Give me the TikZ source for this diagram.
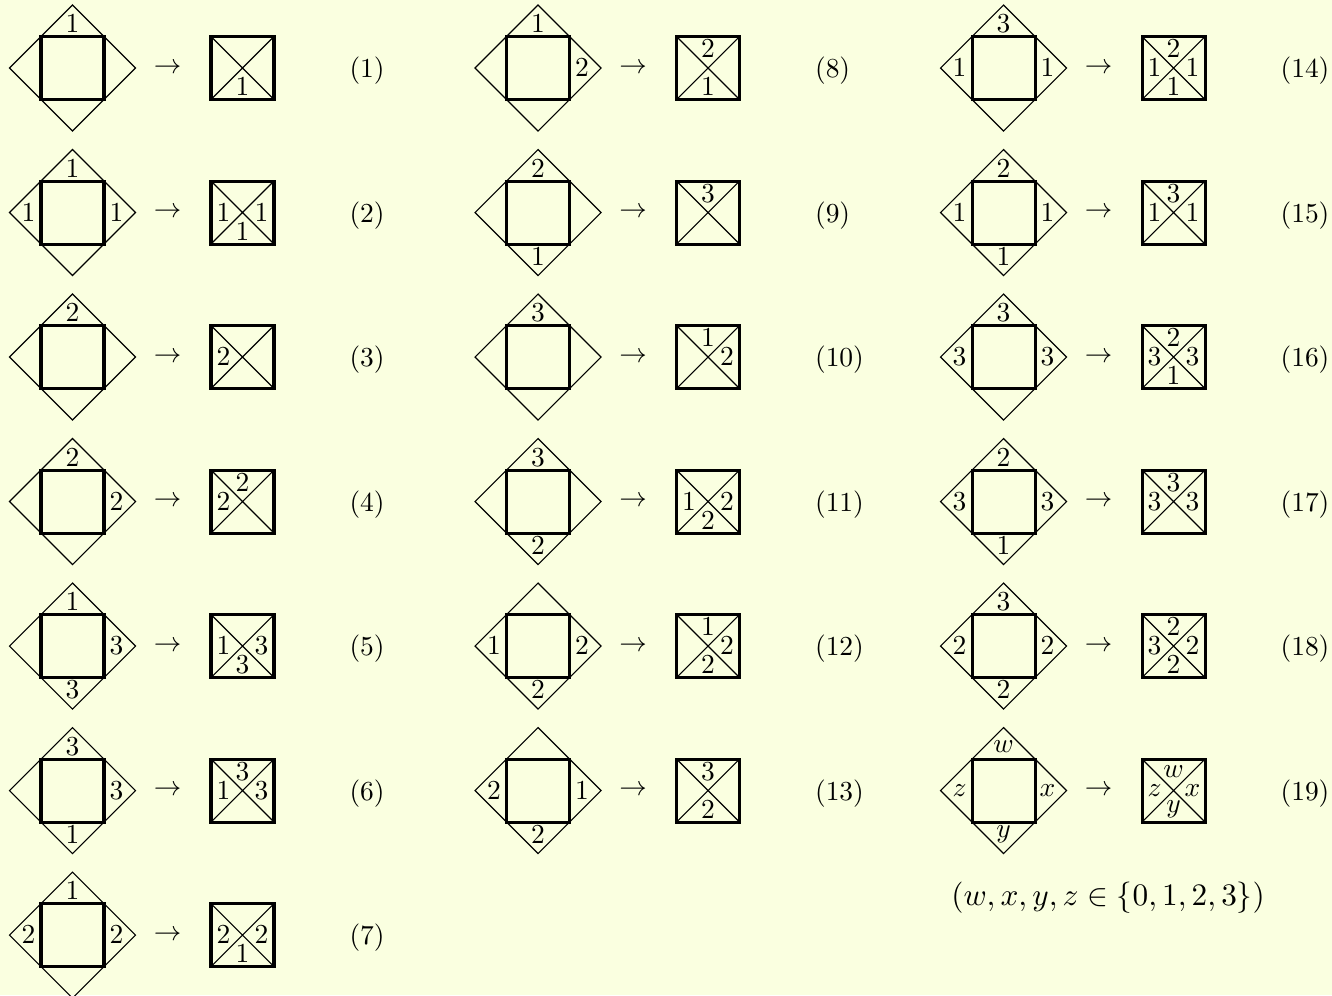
\documentclass[tikz,border=0pt]{standalone}
\usetikzlibrary{positioning}
\usepackage{xcolor}
\usepackage{graphicx}
\definecolor{bgfill}{RGB}{250,255,224}

\begin{document}
\begin{tikzpicture}[x=0.364pt, y=-0.364pt,
    outer/.style={line width=0.4pt},
    tile/.style={line width=1.1pt},
    lab/.style={inner sep=0pt},
    eqno/.style={anchor=west, inner sep=0pt}
]
    \useasboundingbox[fill=bgfill] (0,0) rectangle (1332,995);

    % column/row/number/diamond labels (top,right,bottom,left)/square labels (top,right,bottom,left)
    \foreach \c/\r/\n/\dt/\dr/\db/\dl/\st/\sr/\sb/\sl in {
        1/1/1/1/{}/{}/{}/{}/{}/1/{},
        1/2/2/1/1/{}/1/{}/1/1/1,
        1/3/3/2/{}/{}/{}/{}/{}/{}/2,
        1/4/4/2/2/{}/{}/2/{}/{}/2,
        1/5/5/1/3/3/{}/{}/3/3/1,
        1/6/6/3/3/1/{}/3/3/{}/1,
        1/7/7/1/2/{}/2/{}/2/1/2,
        2/1/8/1/2/{}/{}/2/{}/1/{},
        2/2/9/2/{}/1/{}/3/{}/{}/{},
        2/3/10/3/{}/{}/{}/1/2/{}/{},
        2/4/11/3/{}/2/{}/{}/2/2/1,
        2/5/12/{}/2/2/1/1/2/2/{},
        2/6/13/{}/1/2/2/3/{}/2/{},
        3/1/14/3/1/{}/1/2/1/1/1,
        3/2/15/2/1/1/1/3/1/{}/1,
        3/3/16/3/3/{}/3/2/3/1/3,
        3/4/17/2/3/1/3/3/3/{}/3,
        3/5/18/3/2/2/2/2/2/2/3,
        3/6/19/w/x/y/z/w/x/y/z}{
      \begin{scope}[shift={({465.5*\c-393},{144.5*\r-76.5})}]
        % diamond with its inner square
        \coordinate (c\n) at (0,0);
        \draw[outer] (-63,0) -- (0,-63) -- (63,0) -- (0,63) -- cycle;
        \draw[tile] (-31.5,-31.5) rectangle (31.5,31.5);
        \node[lab] (dt\n) at (0,-44) {$\dt$};
        \node[lab] (dr\n) at (44,0)  {$\dr$};
        \node[lab] (db\n) at (0,44)  {$\db$};
        \node[lab] (dl\n) at (-44,0) {$\dl$};
        \node (arr\n) at (95,0) {$\to$};
        % crossed square
        \coordinate (s\n) at (170,0);
        \draw[outer] (138.5,-31.5) -- (201.5,31.5) (138.5,31.5) -- (201.5,-31.5);
        \draw[tile] (138.5,-31.5) rectangle (201.5,31.5);
        \node[lab] (st\n) at (170,-19) {$\st$};
        \node[lab] (sr\n) at (189,0)   {$\sr$};
        \node[lab] (sb\n) at (170,19)  {$\sb$};
        \node[lab] (sl\n) at (151,0)   {$\sl$};
        \node[eqno] (no\n) at (276.5,3) {(\n)};
      \end{scope}
    }

    \node[lab, font=\fontsize{11}{13.6}\selectfont] (range) at (1108,898) {\scalebox{1.04}{$(w,x,y,z\in\{0,1,2,3\})$}};
\end{tikzpicture}
\end{document}
